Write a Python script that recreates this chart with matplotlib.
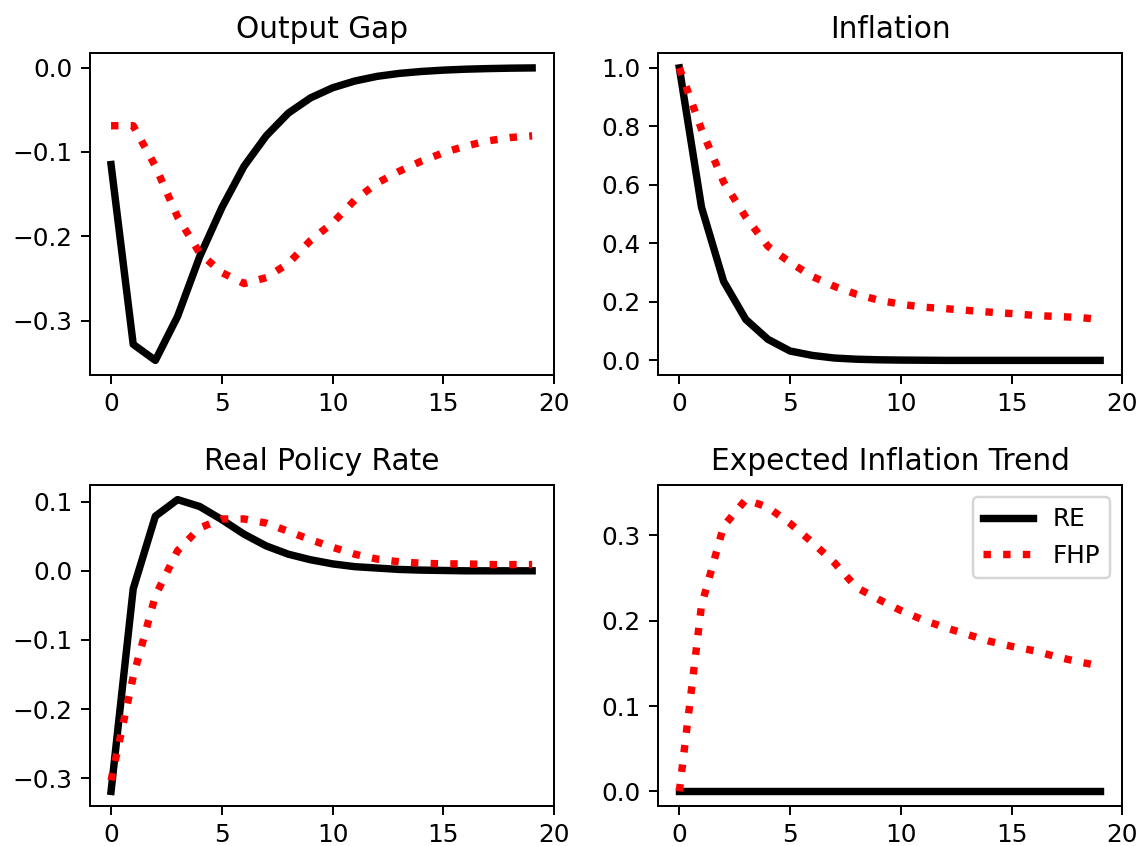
import matplotlib
matplotlib.use("Agg")
import matplotlib.pyplot as plt

t = list(range(20))

output_gap_re = [-0.115, -0.328, -0.347, -0.295, -0.224, -0.166, -0.117, -0.081, -0.054, -0.036,
                 -0.024, -0.016, -0.0105, -0.007, -0.0047, -0.0031, -0.002, -0.0013, -0.0008, -0.0005]
output_gap_fhp = [-0.069, -0.069, -0.117, -0.177, -0.220, -0.243, -0.256, -0.249, -0.232, -0.205,
                  -0.184, -0.157, -0.137, -0.123, -0.111, -0.101, -0.093, -0.087, -0.083, -0.081]

inflation_re = [1.0, 0.524, 0.27, 0.14, 0.072, 0.032, 0.017, 0.008, 0.004, 0.002,
                0.001, 0.0005, 0.0, 0.0, 0.0, 0.0, 0.0, 0.0, 0.0, 0.0]
inflation_fhp = [1.0, 0.79, 0.61, 0.49, 0.39, 0.335, 0.287, 0.253, 0.226, 0.206,
                 0.192, 0.182, 0.177, 0.171, 0.165, 0.160, 0.154, 0.150, 0.147, 0.140]

rate_re = [-0.319, -0.026, 0.079, 0.103, 0.093, 0.074, 0.053, 0.036, 0.024, 0.016,
           0.010, 0.006, 0.004, 0.002, 0.001, 0.0005, 0.0, 0.0, 0.0, 0.0]
rate_fhp = [-0.303, -0.153, -0.036, 0.029, 0.062, 0.075, 0.075, 0.069, 0.057, 0.045,
            0.034, 0.024, 0.017, 0.013, 0.011, 0.010, 0.010, 0.009, 0.009, 0.009]

trend_re = [0.0] * 20
trend_fhp = [0.0, 0.218, 0.311, 0.342, 0.333, 0.314, 0.292, 0.268, 0.239, 0.225,
             0.212, 0.201, 0.192, 0.184, 0.176, 0.170, 0.165, 0.158, 0.152, 0.147]

titles = ["Output Gap", "Inflation", "Real Policy Rate", "Expected Inflation Trend"]
series = [(output_gap_re, output_gap_fhp), (inflation_re, inflation_fhp),
          (rate_re, rate_fhp), (trend_re, trend_fhp)]

W, H = 1141, 846
dpi = 178
fig = plt.figure(figsize=(W / dpi, H / dpi), dpi=dpi)

positions = [
    [90 / W, 1 - 375 / H, 464.3 / W, 321.7 / H],
    [658.3 / W, 1 - 375 / H, 464 / W, 321.7 / H],
    [90 / W, 1 - 806 / H, 464.3 / W, 321 / H],
    [658.3 / W, 1 - 806 / H, 464 / W, 321 / H],
]

for i, (pos, title, (re, fhp)) in enumerate(zip(positions, titles, series)):
    ax = fig.add_axes(pos)
    ax.plot(t, re, color="black", lw=3, label="RE")
    ax.plot(t, fhp, color="red", lw=3, ls=":", label="FHP")
    ax.set_title(title, fontsize=12)
    ax.set_xticks([0, 5, 10, 15, 20])
    if i == 3:
        ax.legend(loc="upper right", fontsize=10)

fig.savefig("out.png", dpi=dpi)
